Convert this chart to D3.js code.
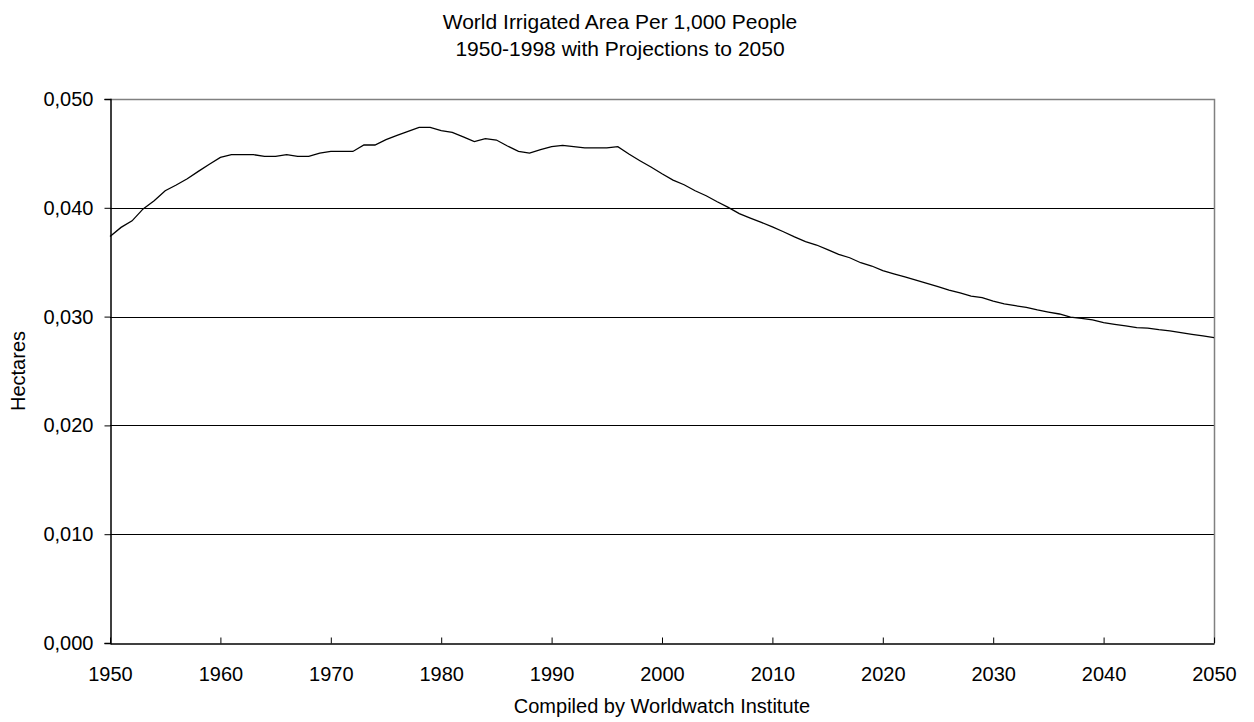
<!DOCTYPE html>
<html>
<head>
<meta charset="utf-8">
<script src="https://cdn.jsdelivr.net/npm/d3@7/dist/d3.min.js"></script>
<style>
  html, body { margin: 0; padding: 0; background: #fff; }
  svg { display: block; font-family: "Liberation Sans", Arial, sans-serif; }
</style>
</head>
<body>
<svg id="chart" width="1254" height="722"></svg>
<script>
// Irrigated hectares per 1,000 people, one value per year 1950-2050
const years = d3.range(1950, 2051);
const hectares = [
  0.03737, 0.03820, 0.03880, 0.03990, 0.04065, 0.04157, 0.04210, 0.04267, 0.04335, 0.04400,
  0.04463, 0.04488, 0.04488, 0.04488, 0.04473, 0.04473, 0.04488, 0.04473, 0.04473, 0.04503,
  0.04518, 0.04518, 0.04518, 0.04577, 0.04577, 0.04626, 0.04666, 0.04702, 0.04739, 0.04739,
  0.04709, 0.04693, 0.04651, 0.04608, 0.04635, 0.04623, 0.04568, 0.04518, 0.04503, 0.04534,
  0.04562, 0.04574, 0.04562, 0.04550, 0.04550, 0.04550, 0.04562, 0.04494, 0.04433, 0.04375,
  0.04313, 0.04255, 0.04212, 0.04157, 0.04111, 0.04056, 0.04004, 0.03946, 0.03906, 0.03866,
  0.03824, 0.03780, 0.03732, 0.03689, 0.03658, 0.03615, 0.03572, 0.03541, 0.03495, 0.03465,
  0.03422, 0.03392, 0.03364, 0.03336, 0.03305, 0.03275, 0.03244, 0.03217, 0.03189, 0.03174,
  0.03143, 0.03116, 0.03100, 0.03085, 0.03061, 0.03042, 0.03024, 0.02996, 0.02984, 0.02969,
  0.02944, 0.02928, 0.02914, 0.02898, 0.02895, 0.02880, 0.02868, 0.02852, 0.02836, 0.02822,
  0.02806
];
const yTicks = [0, 0.01, 0.02, 0.03, 0.04, 0.05];
const xTicks = [1950, 1960, 1970, 1980, 1990, 2000, 2010, 2020, 2030, 2040, 2050];
const titleLines = ["World Irrigated Area Per 1,000 People", "1950-1998 with Projections to 2050"];
const yTitle = "Hectares";
const xTitle = "Compiled by Worldwatch Institute";

const svg = d3.select("#chart");
const margin = { left: 110, right: 40, top: 99, bottom: 79 };
const W = 1254, H = 722;
const x = d3.scaleLinear().domain([1950, 2050]).range([margin.left, W - margin.right]);
const y = d3.scaleLinear().domain([0, 0.05]).range([H - margin.bottom, margin.top]);
const fmt = v => d3.format(".3f")(v).replace(".", ",");
const fontSize = 20;
const fontFamily = "Liberation Sans, Arial, sans-serif";

// horizontal gridlines
svg.append("g")
  .selectAll("line")
  .data(yTicks.filter(t => t > 0 && t < 0.05))
  .join("line")
  .attr("x1", x(1950)).attr("x2", x(2050))
  .attr("y1", d => Math.round(y(d)) + 0.5).attr("y2", d => Math.round(y(d)) + 0.5)
  .attr("stroke", "#000").attr("stroke-width", 1);

// top and right frame in grey
svg.append("path")
  .attr("d", `M${x(1950)},${Math.round(y(0.05)) + 0.5}H${Math.round(x(2050)) + 0.5}V${y(0)}`)
  .attr("fill", "none").attr("stroke", "#808080").attr("stroke-width", 1.5);

// y axis
const yAxis = svg.append("g")
  .attr("transform", `translate(${Math.round(x(1950)) + 0.5},0)`)
  .call(d3.axisLeft(y).tickValues(yTicks).tickFormat(fmt).tickSize(6).tickPadding(11));
yAxis.select(".domain").attr("stroke", "#000").attr("stroke-width", 1.5);
yAxis.selectAll(".tick line").attr("stroke", "#000");
yAxis.selectAll("text").attr("font-size", fontSize).attr("fill", "#000")
  .attr("font-family", fontFamily);

// x axis, ticks pointing into the plot
const xAxis = svg.append("g")
  .attr("transform", `translate(0,${Math.round(y(0)) + 0.5})`)
  .call(d3.axisBottom(x).tickValues(xTicks).tickFormat(d3.format("d")).tickSize(0).tickPadding(23));
xAxis.select(".domain").attr("stroke", "#000").attr("stroke-width", 1.5);
xAxis.selectAll(".tick").append("line").attr("y1", 0).attr("y2", -6).attr("stroke", "#000");
xAxis.selectAll("text").attr("font-size", fontSize).attr("fill", "#000")
  .attr("font-family", fontFamily);

// the series line
const line = d3.line().x((d, i) => x(years[i])).y(d => y(d));
svg.append("path")
  .datum(hectares)
  .attr("d", line)
  .attr("fill", "none")
  .attr("stroke", "#000")
  .attr("stroke-width", 1.3);

// titles
svg.append("g").selectAll("text")
  .data(titleLines)
  .join("text")
  .attr("x", 620).attr("y", (d, i) => 29 + i * 27)
  .attr("text-anchor", "middle")
  .attr("font-size", 21)
  .text(d => d);

svg.append("text")
  .attr("transform", `translate(25,${(y(0) + y(0.05)) / 2}) rotate(-90)`)
  .attr("text-anchor", "middle")
  .attr("font-size", fontSize)
  .text(yTitle);

svg.append("text")
  .attr("x", (x(1950) + x(2050)) / 2).attr("y", 713)
  .attr("text-anchor", "middle")
  .attr("font-size", fontSize)
  .text(xTitle);
</script>
</body>
</html>
